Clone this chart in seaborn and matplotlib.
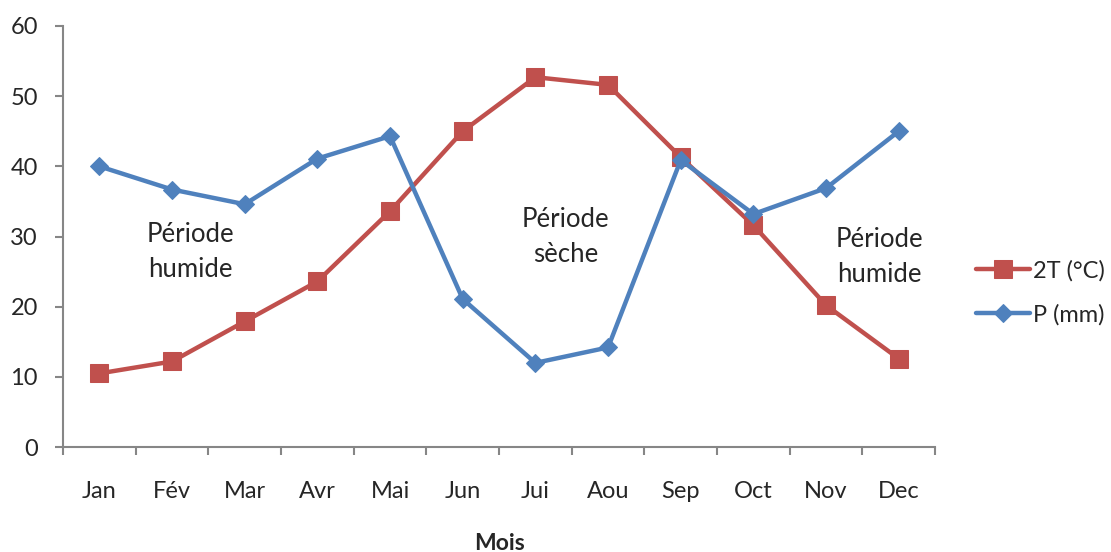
import numpy as np
import pandas as pd
import matplotlib
matplotlib.use("Agg")
import matplotlib.pyplot as plt
import seaborn as sns

# data
mois = ["Jan", "Fév", "Mar", "Avr", "Mai", "Jun", "Jui", "Aou", "Sep", "Oct", "Nov", "Dec"]
temp_2t = [10.5, 12.2, 17.9, 23.6, 33.6, 45.0, 52.7, 51.6, 41.3, 31.6, 20.2, 12.6]
precip = [40.0, 36.7, 34.6, 41.1, 44.3, 21.1, 12.0, 14.2, 40.9, 33.2, 36.9, 45.0]

sns.set_style("white")
plt.rcParams["font.family"] = ["Lato", "DejaVu Sans"]

df = pd.DataFrame({"Mois": mois, "2T (°C)": temp_2t, "P (mm)": precip})

fig = plt.figure(figsize=(11.11, 5.52), dpi=100)
ax = fig.add_axes([0.0567, 0.19, 0.785, 0.763])

red = "#C0504D"
blue = "#4F81BD"
sns.lineplot(data=df, x="Mois", y="2T (°C)", ax=ax, color=red, marker="s",
             markersize=13.5, markeredgecolor=red, linewidth=3.2, label="2T (°C)", sort=False)
sns.lineplot(data=df, x="Mois", y="P (mm)", ax=ax, color=blue, marker="D",
             markersize=9.5, markeredgecolor=blue, linewidth=3.2, label="P (mm)", sort=False)

ax.set_xlim(-0.5, len(mois) - 0.5)
ax.set_ylim(0, 60)
ax.set_yticks(range(0, 61, 10))

for s in ["top", "right"]:
    ax.spines[s].set_visible(False)
for s in ["left", "bottom"]:
    ax.spines[s].set_color("#868686")
    ax.spines[s].set_linewidth(1.5)

ax.set_xticks(np.arange(-0.5, len(mois), 1), minor=True)
ax.tick_params(axis="x", which="major", length=0, pad=24.5, labelsize=17)
ax.tick_params(axis="x", which="minor", length=6, width=1.5, color="#868686", direction="out")
ax.tick_params(axis="y", length=6, width=1.5, color="#868686", direction="out", pad=12, labelsize=17)
ax.tick_params(left=True, bottom=True, which="both")

ax.set_ylabel("")
ax.set_xlabel("Mois", fontsize=16.5, fontweight="bold", labelpad=22)

ax.text(1.25, 27.8, "Période\nhumide", ha="center", va="center", fontsize=18.5, linespacing=1.5)
ax.text(6.42, 29.9, "Période\nsèche", ha="center", va="center", fontsize=18.5, linespacing=1.5)
ax.text(10.73, 27.1, "Période\nhumide", ha="center", va="center", fontsize=18.5, linespacing=1.5)

ax.legend(loc="center left", bbox_to_anchor=(1.022, 0.366), frameon=False, fontsize=17,
          handlelength=2.3, handletextpad=0.15, labelspacing=0.95)

fig.savefig("out.png", dpi=100)
